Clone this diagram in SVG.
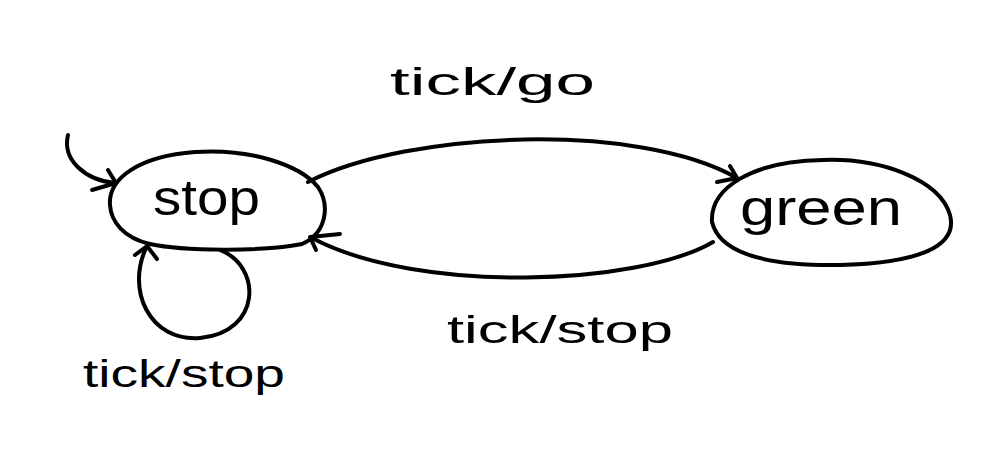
<svg xmlns="http://www.w3.org/2000/svg" width="995" height="464" viewBox="0 0 995 464">
<style>
.ln{fill:none;stroke:#000;stroke-width:4;stroke-linecap:round;stroke-linejoin:round}
.node{fill:none;stroke:#000;stroke-width:4;stroke-linejoin:round}
.nt{font-family:"Liberation Sans",Arial,sans-serif;font-size:50px;fill:#000}
.lt{font-family:"Liberation Sans",Arial,sans-serif;font-size:38px;fill:#000}
</style>
<rect width="995" height="464" fill="#fff"/>
<g id="node-stop">
<path class="node" d="M110 205 C108 178 140 156 195 152 C250 148 300 165 318 187 C330 205 327 233 302 244 C262 252 182 251 150 244 C124 238 111 222 110 205 Z"/>
<text class="nt" x="153" y="215" textLength="107" lengthAdjust="spacingAndGlyphs">stop</text>
</g>
<g id="node-green">
<path class="node" d="M712 222 C710 188 752 161 823 160 C882 158 940 180 950 215 C958 246 920 263 840 265 C770 266 720 255 712 222 Z"/>
<text class="nt" x="740" y="225" textLength="162" lengthAdjust="spacingAndGlyphs">green</text>
</g>
<g id="connectors">
<g id="edge-initial">
<path class="ln" d="M68 135 C62 160 85 180 115 183"/>
<path class="ln" d="M108 170 L116 183 L92 190"/>
</g>
<g id="edge-stop-green">
<path class="ln" d="M308 182 C410 130 640 122 737 178"/>
<path class="ln" d="M730 166 L737 178 L717 182"/>
<text class="lt" x="390" y="95" textLength="205" lengthAdjust="spacingAndGlyphs">tick/go</text>
</g>
<g id="edge-green-stop">
<path class="ln" d="M713 242 C640 285 420 295 312 238"/>
<path class="ln" d="M340 234 L310 237 L316 250"/>
<text class="lt" x="447" y="343" textLength="226" lengthAdjust="spacingAndGlyphs">tick/stop</text>
</g>
<g id="edge-stop-self">
<path class="ln" d="M220 250 C262 266 262 332 200 338 C150 342 125 290 147 246"/>
<path class="ln" d="M135 255 L147 246 L157 259"/>
<text class="lt" x="83" y="387" textLength="202" lengthAdjust="spacingAndGlyphs">tick/stop</text>
</g>
</g>
</svg>
